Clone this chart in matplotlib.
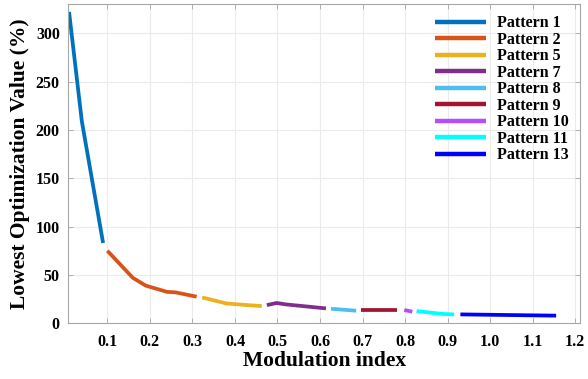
import matplotlib
matplotlib.use("Agg")
import matplotlib.pyplot as plt

plt.rcParams['font.family'] = ['Liberation Serif', 'DejaVu Serif']
plt.rcParams['font.weight'] = 'bold'

labels = ["Pattern 1", "Pattern 2", "Pattern 5", "Pattern 7", "Pattern 8",
          "Pattern 9", "Pattern 10", "Pattern 11", "Pattern 13"]
colors = ["#0072BD", "#D95319", "#EDB120", "#7E2F8E", "#4DBEEE",
          "#A2142F", "#B44CFF", "#00FFFF", "#0000FF"]

p1_x = [0.01, 0.04, 0.09]
p1_y = [322, 209, 83]
p2_x = [0.10, 0.16, 0.19, 0.24, 0.26, 0.31]
p2_y = [75, 47, 39, 32.5, 32, 27.5]
p5_x = [0.323, 0.38, 0.43, 0.463]
p5_y = [26.7, 20.5, 18.8, 17.8]
p7_x = [0.475, 0.498, 0.52, 0.614]
p7_y = [18.8, 21.0, 19.5, 15.4]
p8_x = [0.626, 0.685]
p8_y = [15.0, 13.0]
p9_x = [0.696, 0.78]
p9_y = [13.3, 13.3]
p10_x = [0.798, 0.817]
p10_y = [13.7, 12.0]
p11_x = [0.827, 0.89, 0.915]
p11_y = [12.6, 9.6, 9.2]
p13_x = [0.93, 1.155]
p13_y = [9.2, 7.9]

series_x = [p1_x, p2_x, p5_x, p7_x, p8_x, p9_x, p10_x, p11_x, p13_x]
series_y = [p1_y, p2_y, p5_y, p7_y, p8_y, p9_y, p10_y, p11_y, p13_y]

xticks = [0.1, 0.2, 0.3, 0.4, 0.5, 0.6, 0.7, 0.8, 0.9, 1.0, 1.1, 1.2]
xticklabels = ["0.1", "0.2", "0.3", "0.4", "0.5", "0.6", "0.7", "0.8", "0.9", "1.0", "1.1", "1.2"]
yticks = [0, 50, 100, 150, 200, 250, 300]

fig = plt.figure(figsize=(5.88, 3.79), dpi=100)
ax = fig.add_axes([0.116, 0.147, 0.871, 0.842])

for xs, ys, c, lab in zip(series_x, series_y, colors, labels):
    ax.plot(xs, ys, color=c, lw=2.7, label=lab, solid_capstyle='butt')

ax.set_xlim(0.008, 1.212)
ax.set_ylim(0, 330)
ax.set_xticks(xticks)
ax.set_xticklabels(xticklabels)
ax.set_yticks(yticks)
ax.grid(True, color='#ebebeb', lw=0.8)
ax.set_axisbelow(True)
for s in ax.spines.values():
    s.set_color('#a6a6a6')
    s.set_linewidth(0.8)
ax.tick_params(direction='in', length=3.5, width=0.6, color='#a6a6a6',
               top=True, right=True, labelsize=11.5, labelcolor='black')
ax.tick_params(axis='x', pad=8)
ax.tick_params(axis='y', pad=6)
for t in ax.get_xticklabels() + ax.get_yticklabels():
    t.set_fontweight('bold')

ax.set_xlabel("Modulation index", fontsize=15.5, fontweight='bold', labelpad=0.5)
ax.set_ylabel("Lowest Optimization Value (%)", fontsize=15.5, fontweight='bold', labelpad=4)

leg = ax.legend(loc='upper right', frameon=False, fontsize=11.5, handlelength=3.2,
                labelspacing=0.03, handletextpad=0.7, borderaxespad=0.3)
for line in leg.get_lines():
    line.set_linewidth(3.2)
for t in leg.get_texts():
    t.set_fontweight('bold')

fig.savefig("out.png", dpi=100)
